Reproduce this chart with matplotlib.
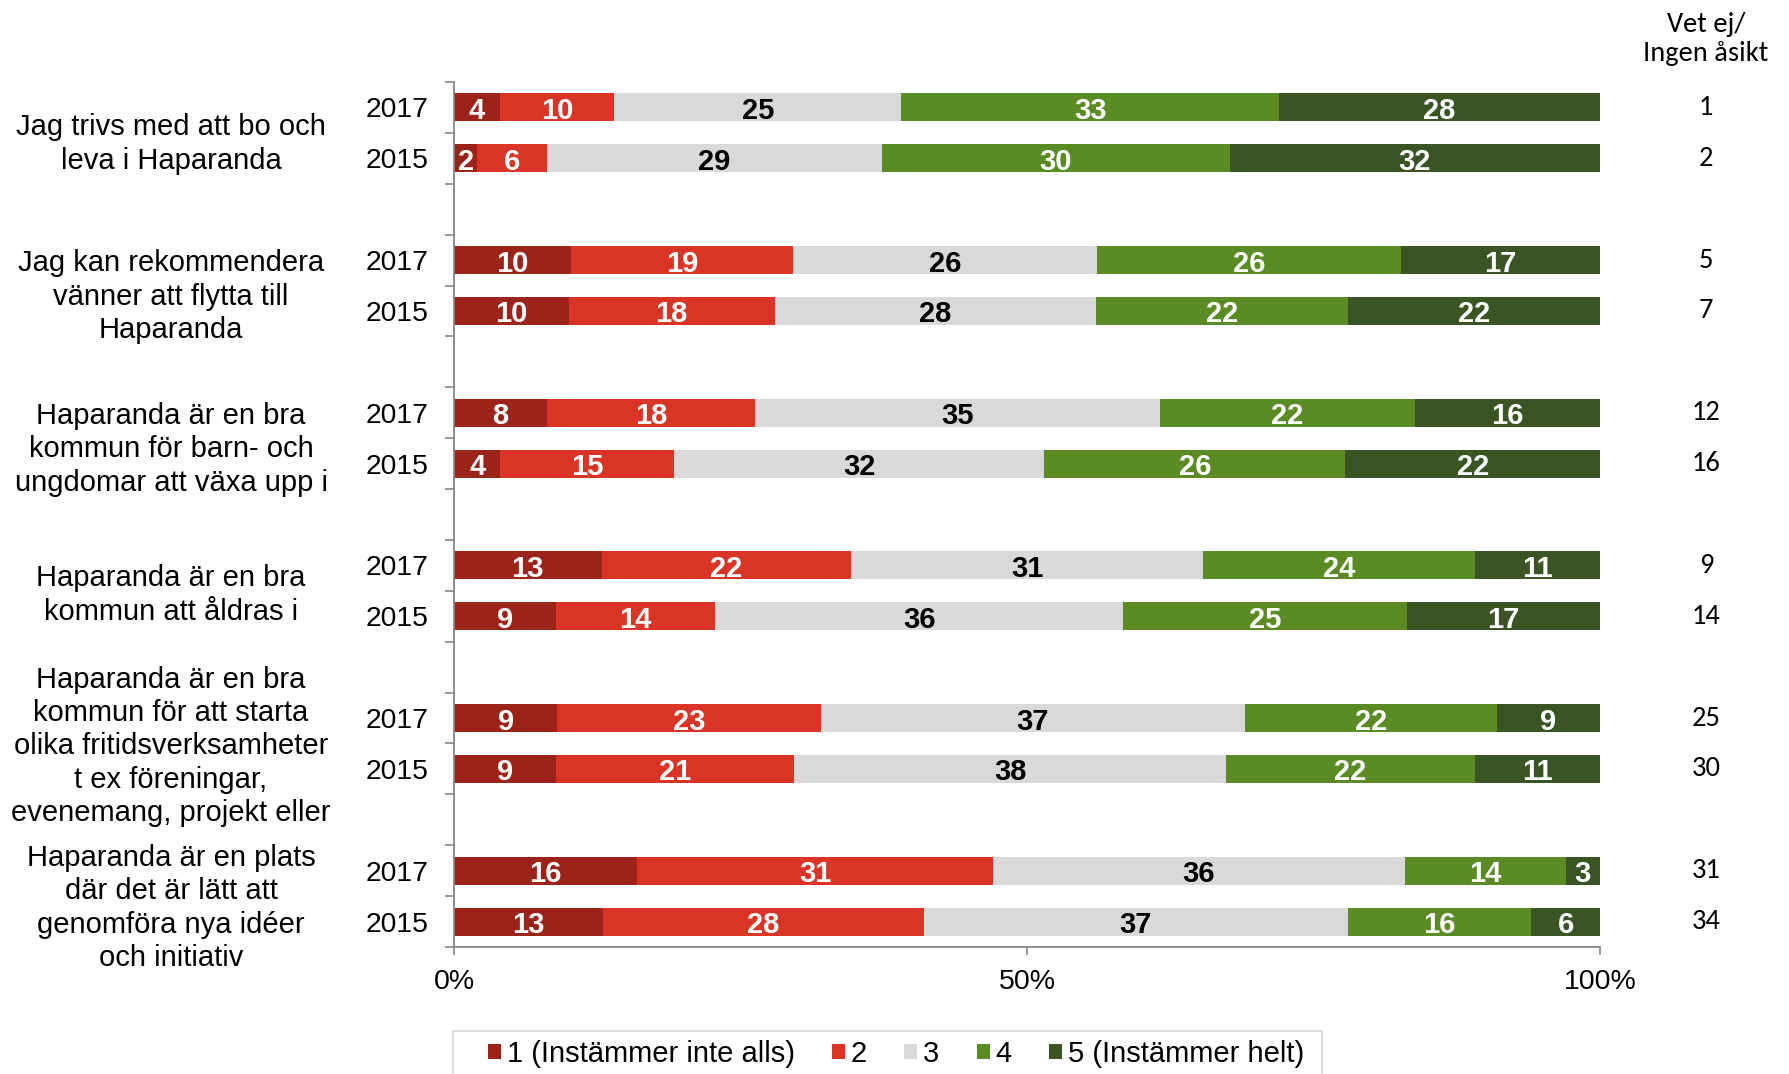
import matplotlib
matplotlib.use("Agg")
import matplotlib.pyplot as plt
from matplotlib.patches import Patch, Rectangle
import numpy as np

ARIAL = ["Liberation Sans", "DejaVu Sans"]
CALIBRI = ["Carlito", "Lato", "DejaVu Sans"]

# ---------------- data ----------------
statements = [
    "Jag trivs med att bo och\nleva i Haparanda",
    "Jag kan rekommendera\nvänner att flytta till\nHaparanda",
    "Haparanda är en bra\nkommun för barn- och\nungdomar att växa upp i",
    "Haparanda är en bra\nkommun att åldras i",
    "Haparanda är en bra\nkommun för att starta\nolika fritidsverksamheter\nt ex föreningar,\nevenemang, projekt eller",
    "Haparanda är en plats\ndär det är lätt att\ngenomföra nya idéer\noch initiativ",
]
years = ["2017", "2015"]
categories = ["1 (Instämmer inte alls)", "2", "3", "4", "5 (Instämmer helt)"]

vals_2017 = [
    [4, 10, 25, 33, 28],
    [10, 19, 26, 26, 17],
    [8, 18, 35, 22, 16],
    [13, 22, 31, 24, 11],
    [9, 23, 37, 22, 9],
    [16, 31, 36, 14, 3],
]
vals_2015 = [
    [2, 6, 29, 30, 32],
    [10, 18, 28, 22, 22],
    [4, 15, 32, 26, 22],
    [9, 14, 36, 25, 17],
    [9, 21, 38, 22, 11],
    [13, 28, 37, 16, 6],
]
vet_ej_2017 = [1, 5, 12, 9, 25, 31]
vet_ej_2015 = [2, 7, 16, 14, 30, 34]

colors = ["#9B231A", "#D93425", "#D9D9D9", "#5A8B25", "#3A5424"]
label_colors = ["white", "white", "black", "white", "white"]

# ---------------- figure ----------------
W, H = 1789, 1074
fig = plt.figure(figsize=(W / 100, H / 100), dpi=100)
ax_l, ax_r, ax_t, ax_b = 454, 1600, 82, 947
ax = fig.add_axes([ax_l / W, 1 - ax_b / H, (ax_r - ax_l) / W, (ax_b - ax_t) / H])

n_groups = len(statements)
n_slots = 3 * n_groups - 1
slot_px = (ax_b - ax_t) / n_slots
bar_h = 0.55
label_offsets_px = [11, 11, 11, 4, 3, 12]
value_dy = 3.5 / slot_px

ytick_pos, ytick_lab = [], []
for g in range(n_groups):
    rows = ((years[0], vals_2017[g], vet_ej_2017[g]),
            (years[1], vals_2015[g], vet_ej_2015[g]))
    for k, (yr, vals, vet) in enumerate(rows):
        y = 3 * g + 0.5 + k
        v = np.array(vals, dtype=float)
        pct = v / v.sum() * 100
        left = 0.0
        for c in range(5):
            ax.barh(y, pct[c], left=left, height=bar_h, color=colors[c], linewidth=0)
            ax.text(left + pct[c] / 2, y + value_dy, str(vals[c]), ha="center", va="center",
                    color=label_colors[c], fontsize=21, fontweight="bold",
                    family=ARIAL)
            left += pct[c]
        ax.text((1706 - ax_l) / (ax_r - ax_l), y, str(vet), transform=ax.get_yaxis_transform(),
                ha="center", va="center", fontsize=20.5, family=CALIBRI)
        ytick_pos.append(y)
        ytick_lab.append(yr)
    yc = 3 * g + 1.0 + label_offsets_px[g] / slot_px
    ax.text((171 - ax_l) / (ax_r - ax_l), yc, statements[g], transform=ax.get_yaxis_transform(),
            ha="center", va="center", multialignment="center",
            fontsize=21, linespacing=1.245, family=ARIAL)

ax.set_xlim(0, 100)
ax.set_ylim(n_slots, 0)

ax.set_yticks(ytick_pos)
ax.set_yticklabels(ytick_lab, fontsize=20.4, family=ARIAL)
ax.set_yticks(np.arange(0, n_slots + 1), minor=True)
ax.tick_params(axis="y", which="major", length=0, pad=18.7)
ax.tick_params(axis="y", which="minor", length=6.5, width=1.2, color="#868686", direction="out")

ax.set_xticks([0, 50, 100])
ax.set_xticklabels(["0%", "50%", "100%"], fontsize=20.5, family=ARIAL)
ax.tick_params(axis="x", length=6, width=1.2, color="#868686", direction="out", pad=10)

for s in ["top", "right"]:
    ax.spines[s].set_visible(False)
for s in ["left", "bottom"]:
    ax.spines[s].set_color("#868686")
    ax.spines[s].set_linewidth(1.3)

fig.text(1706 / W, 1 - 39 / H, "Vet ej/\nIngen åsikt", ha="center", va="center",
         multialignment="center", fontsize=20.5, linespacing=1.16, family=CALIBRI)

# legend box (drawn separately to match the padding)
fig.patches.append(Rectangle((453 / W, -0.05), (1322 - 453) / W, 0.05 + 1 - 1031 / H,
                             transform=fig.transFigure, facecolor="none",
                             edgecolor="#D9D9D9", linewidth=1.3))
handles = [Patch(facecolor=colors[i], edgecolor="none", label=categories[i]) for i in range(5)]
fig.legend(handles=handles, loc="center left", bbox_to_anchor=(488 / W, 1 - 1054 / H),
           ncol=5, frameon=False, borderpad=0, borderaxespad=0,
           handlelength=0.45, handleheight=0.45, handletextpad=0.2,
           columnspacing=1.27, prop={"family": ARIAL, "size": 21})

fig.savefig("out.png", dpi=100)
